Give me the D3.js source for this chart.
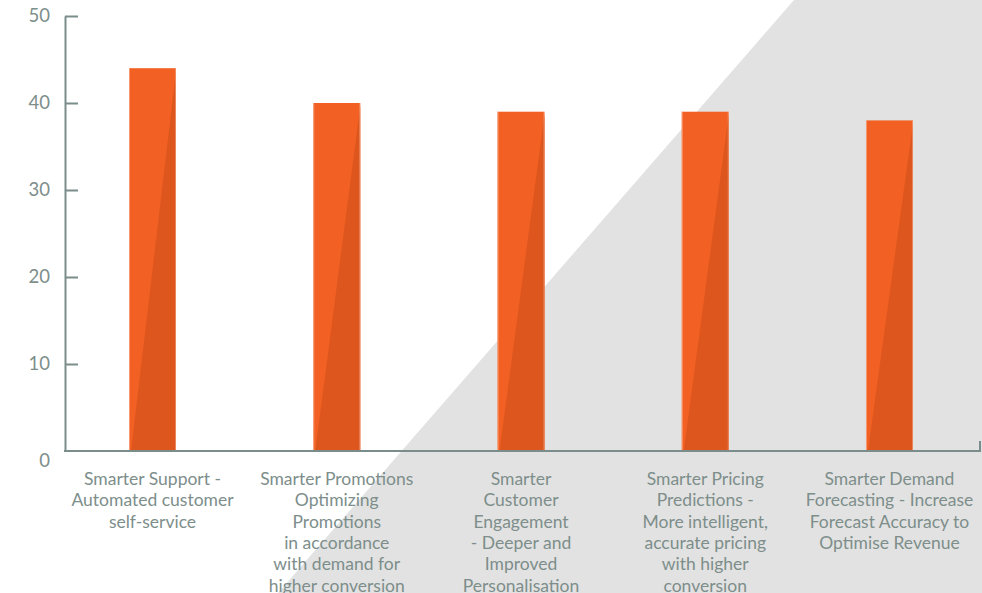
<!DOCTYPE html>
<html>
<head>
<meta charset="utf-8">
<script src="https://cdn.jsdelivr.net/npm/d3@7"></script>
<style>
  html, body { margin: 0; padding: 0; background: #ffffff; }
  svg { display: block; }
  .axis text { font-family: Lato, "Open Sans", sans-serif; fill: #7d8e8b; }
</style>
</head>
<body>
<script>
// Chart data
const categories = [
  "Smarter Support - Automated customer self-service",
  "Smarter Promotions Optimizing Promotions in accordance with demand for higher conversion",
  "Smarter Customer Engagement - Deeper and Improved Personalisation",
  "Smarter Pricing Predictions - More intelligent, accurate pricing with higher conversion",
  "Smarter Demand Forecasting - Increase Forecast Accuracy to Optimise Revenue"
];
const labelLines = [
  ["Smarter Support -", "Automated customer", "self-service"],
  ["Smarter Promotions", "Optimizing", "Promotions", "in accordance", "with demand for", "higher conversion"],
  ["Smarter", "Customer", "Engagement", "- Deeper and", "Improved", "Personalisation"],
  ["Smarter Pricing", "Predictions -", "More intelligent,", "accurate pricing", "with higher", "conversion"],
  ["Smarter Demand", "Forecasting - Increase", "Forecast Accuracy to", "Optimise Revenue"]
];
const values = [44, 40, 39, 39, 38];
const yTicks = [0, 10, 20, 30, 40, 50];

const W = 982, H = 593;
const axisX = 65, baseY = 451, topY = 16;

const svg = d3.select("body").append("svg")
  .attr("width", W).attr("height", H);

// diagonal grey backdrop
svg.append("path")
  .attr("d", `M794,0 L${W},0 L${W},${H} L278,${H} Z`)
  .attr("fill", "#e2e2e2");

const x = d3.scaleBand()
  .domain(categories)
  .range([60.4, 981.6])
  .paddingInner(0.745)
  .paddingOuter(0.3725);

const y = d3.scaleLinear().domain([0, 50]).range([baseY, topY]);

// bars: a light face with a darker sliver cut diagonally across the lower right
const bars = svg.append("g").selectAll("g.bar")
  .data(values.map((v, i) => ({ v, c: categories[i] })))
  .join("g").attr("class", "bar");

bars.append("rect")
  .attr("x", d => x(d.c))
  .attr("y", d => y(d.v))
  .attr("width", x.bandwidth())
  .attr("height", d => baseY - y(d.v))
  .attr("fill", "#f26023");

bars.append("path")
  .attr("d", d => {
    const x0 = x(d.c), x1 = x0 + x.bandwidth(), t = y(d.v);
    return `M${x1},${t + 3} L${x1},${baseY} L${x0 + 2},${baseY} Z`;
  })
  .attr("fill", "#dc561e");

bars.append("line")
  .attr("x1", d => x(d.c) + 0.5).attr("x2", d => x(d.c) + 0.5)
  .attr("y1", d => y(d.v)).attr("y2", baseY)
  .attr("stroke", "#f8a987").attr("stroke-width", 1).attr("opacity", 0.8);
bars.append("line")
  .attr("x1", d => x(d.c) + x.bandwidth() - 0.5).attr("x2", d => x(d.c) + x.bandwidth() - 0.5)
  .attr("y1", d => y(d.v)).attr("y2", baseY)
  .attr("stroke", "#f8a987").attr("stroke-width", 1).attr("opacity", 0.6);

// y axis with ticks pointing into the plot
const yAxis = svg.append("g")
  .attr("class", "axis")
  .attr("transform", `translate(${axisX},0)`)
  .call(d3.axisLeft(y).tickValues(yTicks).tickSize(-13).tickSizeOuter(0).tickPadding(15));
yAxis.selectAll("path, line").attr("stroke", "#7b8d8b").attr("stroke-width", 2);
yAxis.selectAll("text").attr("font-size", 18.5).attr("dy", "0.32em");
yAxis.selectAll(".tick").filter(d => d === 0).select("line").remove();
yAxis.selectAll(".tick").filter(d => d === 0).select("text").attr("dy", "0.85em");

// x axis: baseline with an upturned end, labels wrapped per line
const xAxis = svg.append("g")
  .attr("class", "axis")
  .attr("transform", `translate(0,${baseY})`)
  .call(d3.axisBottom(x).tickSize(0).tickFormat(""));
xAxis.select(".domain")
  .attr("d", `M${axisX - 1},0 H980 V-10`)
  .attr("stroke", "#7b8d8b").attr("stroke-width", 2).attr("fill", "none");

xAxis.selectAll(".tick").each(function(d, i) {
  const t = d3.select(this).append("text")
    .attr("text-anchor", "middle")
    .attr("font-size", 17.5)
    .attr("y", 34);
  labelLines[i].forEach((line, j) => {
    t.append("tspan").attr("x", 0).attr("dy", j === 0 ? 0 : 21.3).text(line);
  });
});
</script>
</body>
</html>
